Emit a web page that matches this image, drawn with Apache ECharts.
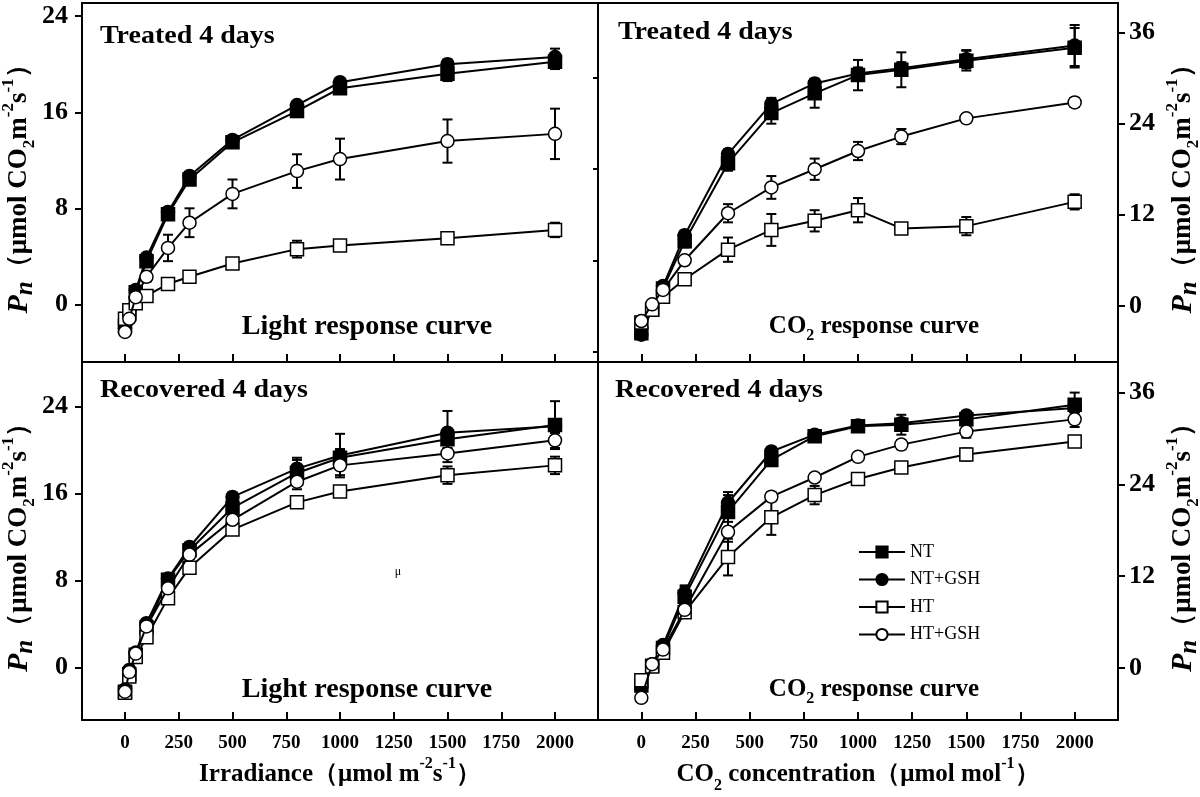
<!DOCTYPE html>
<html>
<head>
<meta charset="utf-8">
<script src="https://cdn.jsdelivr.net/npm/echarts@6/dist/echarts.min.js"></script>
<style>html,body{margin:0;padding:0;background:#fff;}#c{width:1200px;height:797px;}</style>
</head>
<body>
<div id="c"></div>
<script>
// ---- data ----
const lightX = [0, 20, 50, 100, 200, 300, 500, 800, 1000, 1500, 2000];
const co2X = [0, 50, 100, 200, 400, 600, 800, 1000, 1200, 1500, 2000];
const seriesNames = ['NT', 'NT+GSH', 'HT', 'HT+GSH'];
const xTicks = [0, 250, 500, 750, 1000, 1250, 1500, 1750, 2000];
const leftYTicks = [0, 8, 16, 24];
const rightYTicks = [0, 12, 24, 36];
const rightMirrorTicks = [-6, 6, 18, 30];

// Treated 4 days, light response
const tlNT   = [-1.8, -0.8, 1.0, 3.6, 7.5, 10.4, 13.5, 16.1, 18.0, 19.2, 20.2];
const tlNTG  = [-2.0, -0.5, 1.2, 3.9, 7.7, 10.7, 13.7, 16.6, 18.5, 20.0, 20.6];
const tlHT   = [-1.2, -0.5, 0.1, 0.7, 1.7, 2.3, 3.4, 4.6, 4.9, 5.5, 6.2];
const tlHTG  = [-2.3, -1.2, 0.6, 2.3, 4.7, 6.8, 9.2, 11.1, 12.1, 13.6, 14.2];
const tlNTe  = [0.3, 0.3, 0.3, 0.4, 0.4, 0.4, 0.3, 0.5, 0.3, 0.6, 0.6];
const tlNTGe = [0.3, 0.3, 0.3, 0.3, 0.3, 0.3, 0.3, 0.3, 0.3, 0.4, 0.7];
const tlHTe  = [0.3, 0.3, 0.3, 0.3, 0.3, 0.3, 0.3, 0.7, 0.3, 0.3, 0.6];
const tlHTGe = [0.3, 0.3, 0.3, 0.4, 1.1, 1.2, 1.2, 1.4, 1.7, 1.8, 2.1];

// Treated 4 days, CO2 response
const tcNT   = [-3.6, -0.5, 2.3, 8.5, 18.8, 25.4, 28.0, 30.4, 31.1, 32.3, 34.0];
const tcNTG  = [-3.8, -0.3, 2.6, 9.3, 20.0, 26.6, 29.3, 30.6, 31.3, 32.5, 34.3];
const tcHT   = [-2.2, -0.5, 1.2, 3.5, 7.4, 10.0, 11.2, 12.6, 10.2, 10.5, 13.7];
const tcHTG  = [-2.0, 0.2, 2.1, 6.0, 12.2, 15.6, 18.0, 20.4, 22.3, 24.7, 26.8];
const tcNTe  = [0.5, 0.4, 0.4, 0.8, 1.0, 1.4, 1.9, 2.0, 2.3, 1.3, 2.6];
const tcNTGe = [0.4, 0.4, 0.4, 0.6, 0.6, 0.8, 0.6, 0.8, 0.8, 1.2, 2.7];
const tcHTe  = [0.4, 0.3, 0.3, 0.5, 1.6, 2.1, 1.4, 1.6, 0.3, 1.2, 1.0];
const tcHTGe = [0.4, 0.3, 0.3, 0.4, 1.2, 1.5, 1.4, 1.2, 1.0, 0.5, 0.6];

// Recovered 4 days, light response
const rlNT   = [-2.2, -0.6, 1.2, 3.7, 8.1, 10.8, 14.7, 17.9, 19.3, 21.0, 22.3];
const rlNTG  = [-2.0, -0.2, 1.4, 4.1, 8.2, 11.1, 15.7, 18.3, 19.5, 21.6, 22.2];
const rlHT   = [-2.3, -0.8, 1.0, 2.8, 6.4, 9.2, 12.7, 15.2, 16.2, 17.7, 18.6];
const rlHTG  = [-2.2, -0.4, 1.3, 3.8, 7.3, 10.4, 13.6, 17.1, 18.6, 19.7, 20.9];
const rlNTe  = [0.3, 0.3, 0.3, 0.3, 0.4, 0.4, 0.5, 1.2, 0.8, 0.8, 2.2];
const rlNTGe = [0.3, 0.3, 0.3, 0.3, 0.3, 0.4, 0.4, 1.0, 2.0, 2.0, 0.6];
const rlHTe  = [0.3, 0.3, 0.3, 0.3, 0.4, 0.4, 0.5, 0.5, 0.5, 0.8, 0.8];
const rlHTGe = [0.3, 0.3, 0.3, 0.3, 0.4, 0.4, 0.5, 0.7, 0.9, 0.8, 0.7];

// Recovered 4 days, CO2 response
const rcNT   = [-2.3, 0.3, 2.6, 9.3, 20.4, 27.2, 30.3, 31.6, 31.8, 32.5, 34.4];
const rcNTG  = [-2.5, 0.5, 3.0, 9.8, 21.6, 28.3, 30.5, 31.7, 32.0, 33.0, 34.0];
const rcHT   = [-1.6, 0.2, 2.0, 7.3, 14.5, 19.7, 22.6, 24.7, 26.2, 27.9, 29.6];
const rcHTG  = [-3.9, 0.5, 2.4, 7.6, 17.8, 22.4, 24.9, 27.6, 29.2, 30.9, 32.5];
const rcNTe  = [0.4, 0.3, 0.4, 1.3, 2.6, 0.8, 0.6, 0.5, 1.3, 0.8, 1.6];
const rcNTGe = [0.4, 0.3, 0.4, 1.0, 1.0, 0.6, 0.5, 0.6, 0.6, 0.6, 0.6];
const rcHTe  = [0.4, 0.3, 0.4, 0.6, 2.4, 2.3, 1.2, 0.6, 0.6, 0.8, 0.7];
const rcHTGe = [0.4, 0.3, 0.4, 1.0, 1.3, 0.6, 0.5, 0.5, 0.6, 0.8, 1.0];

// ---- chart ----
const FONT = "'Liberation Serif', 'Times New Roman', serif";
const panels = [
  { x: lightX, vals: [tlNT, tlNTG, tlHT, tlHTG], errs: [tlNTe, tlNTGe, tlHTe, tlHTGe] },
  { x: co2X,   vals: [tcNT, tcNTG, tcHT, tcHTG], errs: [tcNTe, tcNTGe, tcHTe, tcHTGe] },
  { x: lightX, vals: [rlNT, rlNTG, rlHT, rlHTG], errs: [rlNTe, rlNTGe, rlHTe, rlHTGe] },
  { x: co2X,   vals: [rcNT, rcNTG, rcHT, rcHTG], errs: [rcNTe, rcNTGe, rcHTe, rcHTGe] }
];
const styles = [
  { symbol: 'rect', fill: '#000' },
  { symbol: 'circle', fill: '#000' },
  { symbol: 'rect', fill: '#fff' },
  { symbol: 'circle', fill: '#fff' }
];

const grids = [
  { left: 82, top: 3, width: 516, height: 359 },
  { left: 598, top: 3, width: 520, height: 359 },
  { left: 82, top: 362, width: 516, height: 358 },
  { left: 598, top: 362, width: 520, height: 358 }
].map(g => Object.assign(g, { show: true, borderColor: '#000', borderWidth: 2, backgroundColor: 'transparent', containLabel: false, outerBoundsMode: 'none' }));

function mkRich(base) {
  return {
    p: { color: '#000', fontFamily: FONT, fontSize: base + 3, fontWeight: 'bold', fontStyle: 'italic', lineHeight: 38, verticalAlign: 'middle' },
    pn: { color: '#000', fontFamily: FONT, fontSize: base - 2, fontWeight: 'bold', fontStyle: 'italic', lineHeight: 38, verticalAlign: 'bottom' },
    t: { color: '#000', fontFamily: FONT, fontSize: base, fontWeight: 'bold', lineHeight: 38, verticalAlign: 'middle' },
    sub: { color: '#000', fontFamily: FONT, fontSize: Math.round(base * 0.62), fontWeight: 'bold', lineHeight: 38, verticalAlign: 'bottom' },
    sup: { color: '#000', fontFamily: FONT, fontSize: Math.round(base * 0.62), fontWeight: 'bold', lineHeight: 38, verticalAlign: 'top' }
  };
}
const yRich = mkRich(27);
const xRich = mkRich(25);
const yName = '{p|P}{pn|n}{t|（μmol CO}{sub|2}{t|m}{sup|-2}{t|s}{sup|-1}{t|）}';

function xAxis(gi, showLabel, name) {
  return {
    type: 'value', gridIndex: gi, min: -200, max: 2200,
    axisLine: { show: false, onZero: false },
    splitLine: { show: false },
    axisTick: { show: true, inside: true, length: 8, lineStyle: { color: '#000', width: 2 }, customValues: xTicks },
    axisLabel: { show: showLabel, customValues: xTicks, margin: 14, color: '#000', fontFamily: FONT, fontWeight: 'bold', fontSize: 19, formatter: v => String(v) },
    name: name || '', nameLocation: 'middle', nameGap: 36,
    nameTextStyle: { color: '#000', rich: xRich }
  };
}
function yAxis(gi, min, max, ticks, pos) {
  return {
    type: 'value', gridIndex: gi, min: min, max: max, position: pos,
    axisLine: { show: false, onZero: false },
    splitLine: { show: false },
    axisTick: { show: true, inside: false, length: 7, lineStyle: { color: '#000', width: 2 }, customValues: ticks },
    axisLabel: { customValues: ticks, margin: pos === 'left' ? 14 : 11, color: '#000', fontFamily: FONT, fontWeight: 'bold', fontSize: 26, formatter: v => String(v) },
    name: yName, nameLocation: 'middle', nameRotate: 90, nameGap: pos === 'left' ? 42 : 46,
    nameTextStyle: { color: '#000', rich: yRich }
  };
}

const xAxes = [
  xAxis(0, false), xAxis(1, false),
  xAxis(2, true, '{t|Irradiance（μmol m}{sup|-2}{t|s}{sup|-1}{t|）}'),
  xAxis(3, true, '{t|CO}{sub|2}{t| concentration（μmol mol}{sup|-1}{t|）}')
];
const yAxes = [
  yAxis(0, -4.8, 25.1, leftYTicks, 'left'),
  yAxis(1, -7.4, 39.9, rightYTicks, 'right'),
  yAxis(2, -4.8, 28.1, leftYTicks, 'left'),
  yAxis(3, -6.8, 40.0, rightYTicks, 'right'),
  {
    type: 'value', gridIndex: 1, min: -7.4, max: 39.9, position: 'left',
    axisLine: { show: false, onZero: false }, splitLine: { show: false },
    axisTick: { show: true, inside: false, length: 5, lineStyle: { color: '#000', width: 2 }, customValues: rightMirrorTicks },
    axisLabel: { show: false }
  }
];

const series = [];
panels.forEach((p, pi) => {
  p.vals.forEach((vals, si) => {
    const errs = p.errs[si];
    series.push({
      type: 'custom', name: seriesNames[si] + ' error', xAxisIndex: pi, yAxisIndex: pi, z: 2,
      data: p.x.map((x, i) => [x, vals[i], errs[i]]),
      encode: { x: 0, y: 1 },
      renderItem: function (params, api) {
        const x = api.value(0), y = api.value(1), e = api.value(2);
        const top = api.coord([x, y + e]);
        const bot = api.coord([x, y - e]);
        const hw = 5;
        const st = { stroke: '#000', lineWidth: 2 };
        return { type: 'group', children: [
          { type: 'line', shape: { x1: top[0], y1: top[1], x2: bot[0], y2: bot[1] }, style: st },
          { type: 'line', shape: { x1: top[0] - hw, y1: top[1], x2: top[0] + hw, y2: top[1] }, style: st },
          { type: 'line', shape: { x1: bot[0] - hw, y1: bot[1], x2: bot[0] + hw, y2: bot[1] }, style: st }
        ] };
      }
    });
  });
  p.vals.forEach((vals, si) => {
    const s = styles[si];
    series.push({
      type: 'line', name: seriesNames[si], xAxisIndex: pi, yAxisIndex: pi, z: 3 + si,
      data: p.x.map((x, i) => [x, vals[i]]),
      symbol: s.symbol, symbolSize: 13, showSymbol: true,
      lineStyle: { color: '#000', width: 2 },
      itemStyle: { color: s.fill, borderColor: '#000', borderWidth: 1.5 }
    });
  });
});

function txt(text, x, y, align, size, sx) {
  return { type: 'text', x: x, y: y, z: 20, scaleX: sx || 1, scaleY: 1,
    style: { text: text, font: 'bold ' + size + "px 'Liberation Serif', serif", fill: '#000', textAlign: align, textVerticalAlign: 'middle' } };
}
const co2Rich = {
  a: { color: '#000', fontFamily: FONT, fontSize: 25, fontWeight: 'bold', lineHeight: 34, verticalAlign: 'middle' },
  b: { color: '#000', fontFamily: FONT, fontSize: 16, fontWeight: 'bold', lineHeight: 34, verticalAlign: 'bottom' }
};
function co2Label(x, y) {
  return { type: 'text', x: x, y: y, z: 20, style: { text: '{a|CO}{b|2}{a| response curve}', rich: co2Rich, fill: '#000', textAlign: 'center', textVerticalAlign: 'middle' } };
}

const option = {
  animation: false,
  backgroundColor: '#fff',
  grid: grids,
  xAxis: xAxes,
  yAxis: yAxes,
  legend: {
    data: seriesNames, orient: 'vertical', left: 853, top: 538,
    itemWidth: 46, itemHeight: 14, itemGap: 9.5,
    textStyle: { fontFamily: FONT, fontSize: 18, color: '#000' }
  },
  series: series,
  graphic: [
    txt('Treated 4 days', 100, 37, 'left', 25, 1.12),
    txt('Treated 4 days', 618, 33, 'left', 25, 1.12),
    txt('Recovered 4 days', 100, 391, 'left', 25, 1.12),
    txt('Recovered 4 days', 615, 391, 'left', 25, 1.12),
    txt('Light response curve', 367, 327, 'center', 27, 1.04),
    txt('Light response curve', 367, 690, 'center', 27, 1.04),
    co2Label(874, 327),
    co2Label(874, 690),
    { type: 'text', x: 398, y: 572, z: 20, style: { text: 'μ', font: "12px 'Liberation Serif', serif", fill: '#000', textAlign: 'center', textVerticalAlign: 'middle' } }
  ]
};
const chart = echarts.init(document.getElementById('c'), null, { renderer: 'canvas' });
chart.setOption(option);
</script>
</body>
</html>
